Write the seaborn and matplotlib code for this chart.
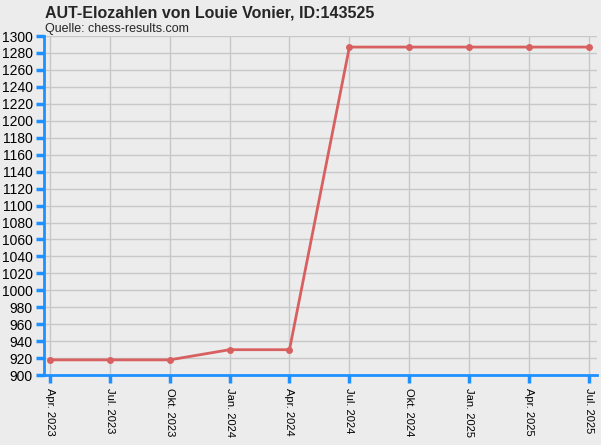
import matplotlib
matplotlib.use("Agg")
import seaborn as sns
import matplotlib.pyplot as plt
import pandas as pd

monate = ["Apr. 2023", "Jul. 2023", "Okt. 2023", "Jan. 2024", "Apr. 2024",
          "Jul. 2024", "Okt. 2024", "Jan. 2025", "Apr. 2025", "Jul. 2025"]
elo = [918, 918, 918, 930, 930, 1287, 1287, 1287, 1287, 1287]

df = pd.DataFrame({"idx": range(len(monate)), "elo": elo})

sns.set_style("whitegrid")
plt.rcParams['font.family'] = ['Liberation Sans', 'DejaVu Sans']
fig = plt.figure(figsize=(6.01, 4.45), dpi=100, facecolor="#ececec")
ax = fig.add_axes([0.073, 0.157, 0.92, 0.762])
ax.set_facecolor("#ececec")
sns.lineplot(data=df, x="idx", y="elo", color="#d96060", linewidth=2,
             marker="o", markersize=5, markeredgewidth=0, ax=ax)

ax.set_xlim(-0.1, 9.13)
ax.set_ylim(900, 1300)
ax.set_yticks(range(900, 1301, 20))
ax.set_xticks(range(len(monate)))
ax.set_xticklabels(monate, rotation=-90, fontsize=8)
ax.tick_params(axis="y", left=True, labelsize=10, length=6, width=2.5,
               color="#1e90ff", labelcolor="black", direction="out", pad=2)
ax.tick_params(axis="x", bottom=True, length=6, width=2.5, color="#1e90ff",
               labelcolor="black", pad=3)
ax.grid(True, color="#c8c8c8", linewidth=1)
for s in ["top", "right"]:
    ax.spines[s].set_visible(False)
for s in ["left", "bottom"]:
    ax.spines[s].set_color("#1e90ff")
    ax.spines[s].set_linewidth(2)
ax.set_xlabel("")
ax.set_ylabel("")

fig.text(0.075, 0.96, "AUT-Elozahlen von Louie Vonier, ID:143525",
         fontsize=11.5, fontweight="bold")
fig.text(0.075, 0.927, "Quelle: chess-results.com", fontsize=9)

fig.savefig("out.png", dpi=100, facecolor=fig.get_facecolor())
